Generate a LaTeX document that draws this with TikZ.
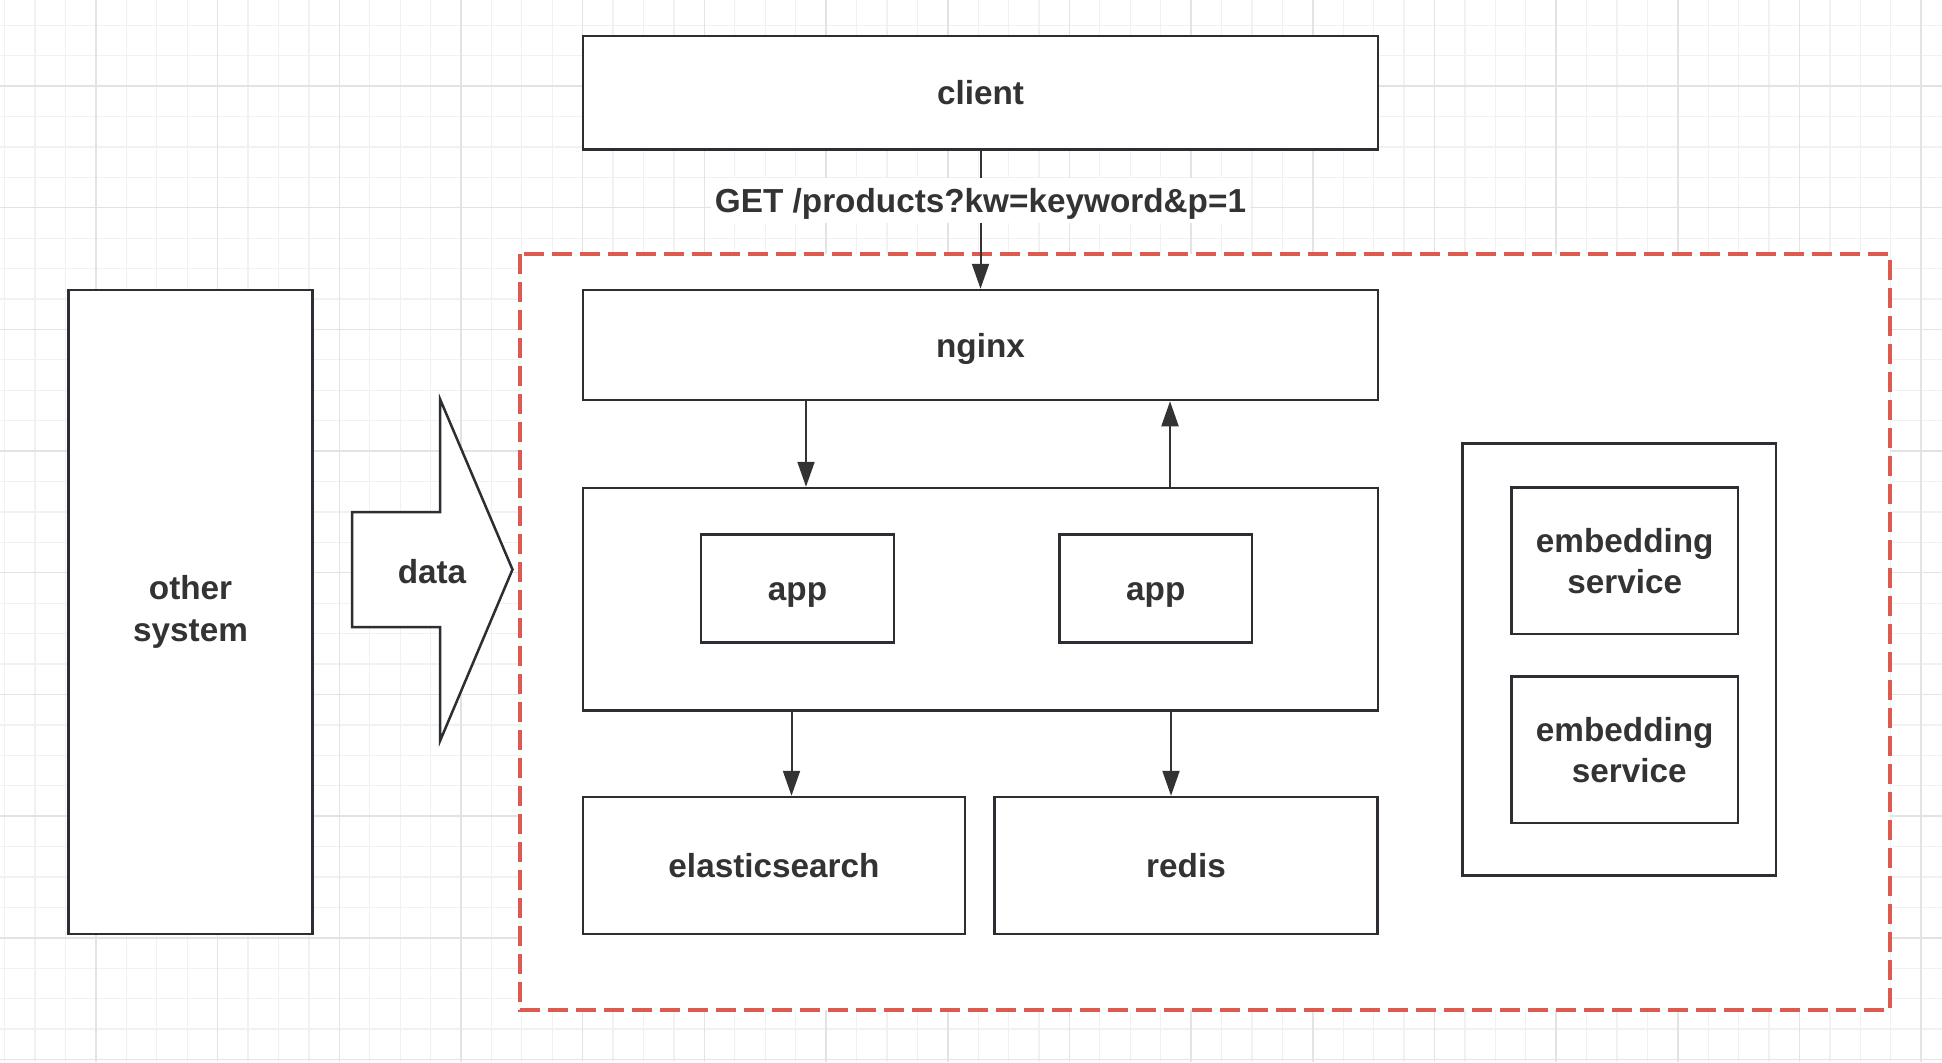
\documentclass[tikz,border=0pt]{standalone}
\usepackage{fontspec}
\setmainfont{Liberation Sans}
\usetikzlibrary{arrows.meta}
\definecolor{ink}{HTML}{2B2F33}
\definecolor{txt}{HTML}{333333}
\definecolor{dashred}{HTML}{DC5A50}
\definecolor{gridminor}{HTML}{F1F1F1}
\definecolor{gridmajor}{HTML}{E3E3E3}
\tikzset{
  box/.style={draw=ink, line width=1.25pt, fill=white, text=txt, align=center, inner sep=0pt},
  oneline/.style={text height=12pt, text depth=0pt},
  arr/.style={draw=txt, line width=1pt, -{Triangle[length=12.5pt,width=8.5pt]}},
  minorline/.style={draw=gridminor, line width=0.65pt},
  majorline/.style={draw=gridmajor, line width=0.75pt},
}

\begin{document}
\begin{tikzpicture}[x=0.5pt, y=-0.5pt, font=\fontsize{16.65pt}{20.75pt}\selectfont\bfseries]
\useasboundingbox[fill=white] (0,0) rectangle (1942,1062);
% background grid
\foreach \i in {0,...,63} \draw[minorline] ({4.7+30.42*\i},0) -- ++(0,1062);
\foreach \j in {0,...,34} \draw[minorline] (0,{25.2+30.42*\j}) -- ++(1942,0);
\foreach \i in {0,...,15} \draw[majorline] ({96+121.68*\i},0) -- ++(0,1062);
\foreach \j in {0,...,8} \draw[majorline] (0,{86+121.68*\j}) -- ++(1942,0);
% service boundary
\draw[dashred, line width=1.75pt, fill=white, dash pattern=on 10pt off 4pt] (520,254) rectangle (1890,1010);
% nodes
\node[box, oneline, minimum width=397.5pt, minimum height=56.75pt] (client) at (980.5,92.75) {client};
\node[box, oneline, minimum width=397.5pt, minimum height=55pt] (nginx) at (980.5,345) {nginx};
\node[box, minimum width=397.5pt, minimum height=111.25pt] (apps) at (980.5,599.25) {};
\node[box, oneline, minimum width=96.5pt, minimum height=54pt] (app1) at (797.5,588.5) {app};
\node[box, oneline, minimum width=96.25pt, minimum height=54pt] (app2) at (1155.75,588.5) {app};
\node[box, oneline, minimum width=191pt, minimum height=68.5pt] (es) at (774,865.5) {elasticsearch};
\node[box, oneline, minimum width=191.5pt, minimum height=68.5pt] (redis) at (1186,865.5) {redis};
\node[box, minimum width=156.75pt, minimum height=216.2pt] (embeds) at (1619.25,659.5) {};
\node[box, minimum width=113.25pt, minimum height=73.15pt] (embed1) at (1624.75,560.85) {embedding\\service};
\node[box, minimum width=113.25pt, minimum height=73.15pt] (embed2) at (1624.75,749.85) {embedding\\\hspace*{4.6pt}service};
\node[box, minimum width=122pt, minimum height=322pt] (other) at (190.55,612) {other\\system};
% data arrow
\draw[ink, line width=1.25pt, fill=white] (352,512) -- (440,512) -- (440,399) -- (512.5,569.5)
  -- (440,741) -- (440,627) -- (352,627) -- cycle;
\node[text=txt, oneline] (data) at (432,571) {data};
% connectors
\draw[arr] (client) -- node[pos=0.36, oneline, fill=white, text=txt, inner xsep=2pt, inner ysep=0pt, minimum height=22.5pt] (req) {GET /products?kw=keyword\&p=1} (nginx);
\draw[arr] ([xshift=-87.25pt]nginx.south) -- ([xshift=-87.25pt]apps.north);
\draw[arr] ([xshift=94.75pt]apps.north) -- ([xshift=94.75pt]nginx.south);
\draw[arr] ([xshift=-94.5pt]apps.south) -- ([xshift=-94.5pt]apps.south |- es.north);
\draw[arr] ([xshift=95.25pt]apps.south) -- ([xshift=95.25pt]apps.south |- redis.north);
\end{tikzpicture}
\end{document}
